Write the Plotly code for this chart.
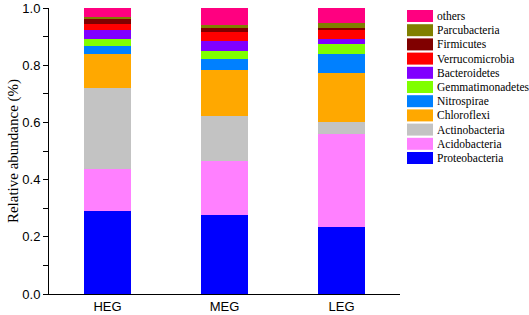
import plotly.graph_objects as go

samples = ["HEG", "MEG", "LEG"]
taxa = ["Proteobacteria", "Acidobacteria", "Actinobacteria", "Chloroflexi", "Nitrospirae",
        "Gemmatimonadetes", "Bacteroidetes", "Verrucomicrobia", "Firmicutes", "Parcubacteria", "others"]
proteobacteria = [0.289, 0.276, 0.235]
acidobacteria = [0.148, 0.189, 0.324]
actinobacteria = [0.284, 0.157, 0.043]
chloroflexi = [0.117, 0.161, 0.170]
nitrospirae = [0.030, 0.038, 0.067]
gemmatimonadetes = [0.024, 0.029, 0.034]
bacteroidetes = [0.031, 0.036, 0.019]
verrucomicrobia = [0.020, 0.029, 0.033]
firmicutes = [0.019, 0.014, 0.006]
parcubacteria = [0.008, 0.012, 0.015]
others = [0.030, 0.059, 0.054]
values = [proteobacteria, acidobacteria, actinobacteria, chloroflexi, nitrospirae,
          gemmatimonadetes, bacteroidetes, verrucomicrobia, firmicutes, parcubacteria, others]
colors = ["#0000FF", "#FF80FF", "#C3C3C3", "#FFA800", "#0080FF",
          "#80FF00", "#8000FF", "#FF0000", "#800000", "#808000", "#FF0080"]

W, H = 529, 315
L, R, T, B = 49, 129, 8, 21
pw, ph = W - L - R, H - T - B

fig = go.Figure()
for name, vals, col in zip(taxa, values, colors):
    fig.add_trace(go.Bar(x=samples, y=vals, name=name, marker=dict(color=col, line=dict(width=0)),
                         width=0.40))

# custom legend (top item = last trace)
shapes, annos = [], []
for i, (name, col) in enumerate(zip(reversed(taxa), reversed(colors))):
    top = 10 + 14.2 * i
    y0 = (H - B - (top + 12)) / ph
    y1 = (H - B - top) / ph
    shapes.append(dict(type="rect", xref="paper", yref="paper",
                       x0=(407 - L) / pw, x1=(433 - L) / pw, y0=y0, y1=y1,
                       fillcolor=col, line=dict(width=0)))
    annos.append(dict(xref="paper", yref="paper", x=(435 - L) / pw, y=(y0 + y1) / 2,
                      xanchor="left", yanchor="middle", text=name, showarrow=False,
                      font=dict(family="Liberation Serif", size=11.5, color="black")))

fig.update_layout(
    barmode="stack",
    width=W, height=H,
    margin=dict(l=L, r=R, t=T, b=B, autoexpand=False),
    paper_bgcolor="white", plot_bgcolor="white",
    showlegend=False,
    shapes=shapes, annotations=annos,
    font=dict(family="Liberation Sans", color="black"),
)
fig.update_yaxes(range=[0, 1], tickmode="array", tickvals=[0, 0.2, 0.4, 0.6, 0.8, 1.0],
                 ticktext=["0.0", "0.2", "0.4", "0.6", "0.8", "1.0"],
                 ticks="outside", ticklen=5, tickwidth=1, tickcolor="black",
                 minor=dict(tickvals=[0.1, 0.3, 0.5, 0.7, 0.9], ticks="outside", ticklen=5, tickcolor="black"),
                 showline=True, linecolor="black", linewidth=1, showgrid=False, zeroline=False,
                 automargin=False,
                 tickfont=dict(family="Liberation Sans", size=13),
                 title=dict(text="Relative abundance (%)", font=dict(family="Liberation Serif", size=15), standoff=0))
fig.update_xaxes(showline=True, linecolor="black", linewidth=1, ticks="", showgrid=False,
                 automargin=False,
                 tickfont=dict(family="Liberation Sans", size=13))

fig.write_html("out.html", config={"displayModeBar": False},
               post_script="document.body.style.margin='0px';")
